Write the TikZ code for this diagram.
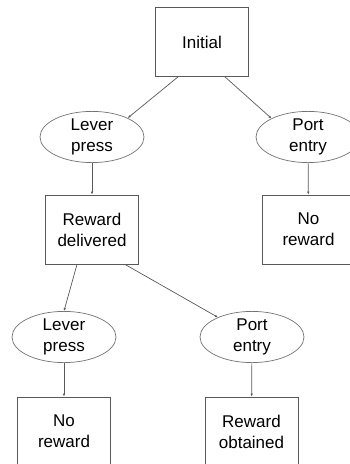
\documentclass[tikz,border=0pt]{standalone}
\usepackage{fontspec}
\setmainfont{Liberation Sans}
\usetikzlibrary{shapes.geometric, arrows.meta}

\begin{document}
\begin{tikzpicture}[x=1pt, y=1pt,
    every node/.style={font=\fontsize{17}{21}\selectfont, align=center},
    statebox/.style={draw=black!65, line width=0.8pt, minimum width=93pt, minimum height=69pt, inner sep=0pt},
    action/.style={draw=black!55, ellipse, line width=0.7pt, minimum width=104pt, minimum height=50pt, inner sep=0pt},
    link/.style={draw=black!65, line width=0.7pt, -{Latex[length=3pt, width=2.5pt]}}]

\useasboundingbox (0,0) rectangle (350,-464);
\clip (0,0) rectangle (350,-464);

% =============================================================================
% Top: initial state and first actions
% =============================================================================
\node[statebox] (init) at (202, -42) {Initial};

\node[action] (lever1) at (92, -137) {Lever\\press};
\node[action] (port1) at (308, -137) {Port\\entry};

\node[statebox] (delivered) at (92, -229.5) {Reward\\delivered};
\node[statebox] (noreward1) at (308.5, -229.5) {No\\reward};

% =============================================================================
% Bottom: actions after reward delivery
% =============================================================================
\node[action] (lever2) at (64, -337) {Lever\\press};
\node[action] (port2) at (252, -337) {Port\\entry};

\node[statebox] (noreward2) at (64, -431.5) {No\\reward};
\node[statebox] (obtained) at (251.5, -431.5) {Reward\\obtained};

% Connectors
\draw[link] ([xshift=-24pt]init.south) -- (lever1.28);
\draw[link] ([xshift=23pt]init.south) -- (port1.153);
\draw[link] (lever1) -- (delivered);
\draw[link] (port1) -- (noreward1);
\draw[link] ([xshift=-15pt]delivered.south) -- (lever2.north);
\draw[link] ([xshift=33pt]delivered.south) -- (port2.150);
\draw[link] (lever2) -- (noreward2);
\draw[link] (port2) -- (obtained);

\end{tikzpicture}
\end{document}
